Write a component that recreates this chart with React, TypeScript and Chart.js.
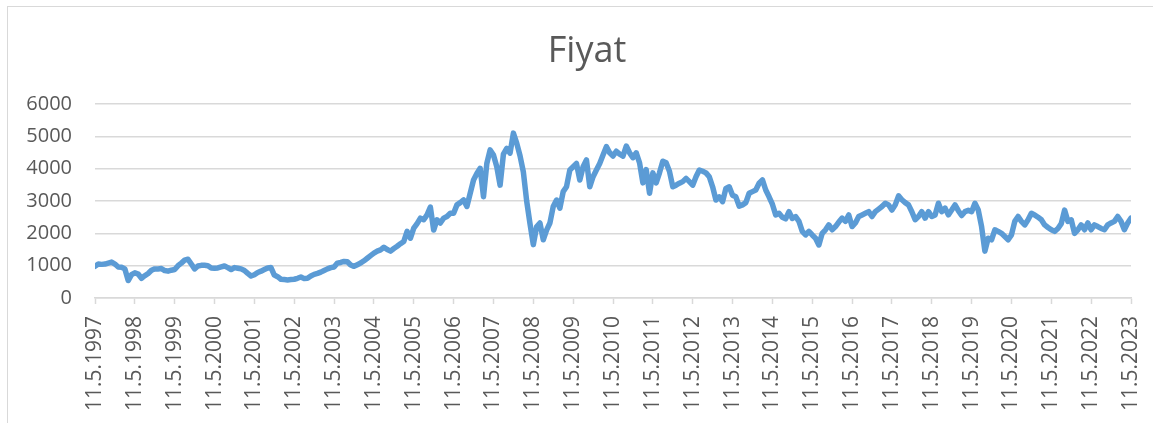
import React, { useEffect, useRef } from "react";
import { Chart, registerables } from "chart.js";

Chart.register(...registerables);

const chartTitle = "Fiyat";

const yearLabels = [
  "11.5.1997", "11.5.1998", "11.5.1999", "11.5.2000", "11.5.2001", "11.5.2002",
  "11.5.2003", "11.5.2004", "11.5.2005", "11.5.2006", "11.5.2007", "11.5.2008",
  "11.5.2009", "11.5.2010", "11.5.2011", "11.5.2012", "11.5.2013", "11.5.2014",
  "11.5.2015", "11.5.2016", "11.5.2017", "11.5.2018", "11.5.2019", "11.5.2020",
  "11.5.2021", "11.5.2022", "11.5.2023",
];

const yTicks = [0, 1000, 2000, 3000, 4000, 5000, 6000];

// Monthly readings, each row starting at May of the named year
const p1997 = [980, 1050, 1040, 1050, 1080, 1110, 1050, 960, 950, 900, 540, 720];
const p1998 = [780, 740, 610, 690, 760, 860, 900, 900, 910, 850, 830, 860];
const p1999 = [880, 1000, 1080, 1170, 1200, 1050, 900, 990, 1010, 1010, 1000, 930];
const p2000 = [920, 930, 960, 990, 940, 880, 940, 920, 900, 850, 760, 680];
const p2001 = [720, 790, 830, 880, 930, 940, 710, 660, 580, 570, 560, 570];
const p2002 = [580, 610, 650, 600, 610, 680, 730, 760, 800, 850, 900, 940];
const p2003 = [960, 1080, 1100, 1130, 1120, 1020, 980, 1030, 1080, 1150, 1230, 1310];
const p2004 = [1390, 1450, 1490, 1570, 1500, 1450, 1530, 1600, 1680, 1750, 2060, 1850];
const p2005 = [2160, 2300, 2470, 2420, 2570, 2810, 2100, 2420, 2320, 2470, 2520, 2620];
const p2006 = [2620, 2880, 2950, 3030, 2830, 3240, 3650, 3850, 4010, 3130, 4160, 4580];
const p2007 = [4420, 4060, 3490, 4450, 4630, 4480, 5100, 4790, 4400, 3900, 3000, 2300];
const p2008 = [1650, 2200, 2320, 1800, 2100, 2320, 2830, 3030, 2780, 3290, 3440, 3960];
const p2009 = [4060, 4160, 3650, 4060, 4270, 3440, 3750, 3960, 4160, 4420, 4680, 4490];
const p2010 = [4390, 4540, 4450, 4390, 4700, 4490, 4340, 4490, 4180, 3560, 3970, 3240];
const p2011 = [3870, 3560, 3870, 4230, 4180, 3920, 3440, 3490, 3550, 3600, 3700, 3600];
const p2012 = [3490, 3750, 3960, 3920, 3870, 3750, 3440, 3030, 3130, 2980, 3390, 3440];
const p2013 = [3180, 3130, 2840, 2880, 2950, 3240, 3290, 3340, 3550, 3650, 3340, 3130];
const p2014 = [2900, 2570, 2620, 2500, 2450, 2670, 2460, 2520, 2370, 2060, 1950, 2060];
const p2015 = [1950, 1850, 1640, 2000, 2110, 2260, 2110, 2210, 2350, 2470, 2370, 2570];
const p2016 = [2210, 2320, 2520, 2570, 2620, 2670, 2520, 2670, 2750, 2830, 2930, 2880];
const p2017 = [2720, 2880, 3160, 3040, 2950, 2880, 2670, 2420, 2520, 2670, 2470, 2670];
const p2018 = [2520, 2570, 2930, 2670, 2780, 2570, 2720, 2880, 2700, 2550, 2670, 2710];
const p2019 = [2670, 2930, 2720, 2210, 1450, 1850, 1800, 2110, 2060, 2000, 1900, 1800];
const p2020 = [1950, 2370, 2520, 2370, 2260, 2420, 2620, 2570, 2500, 2420, 2260, 2180];
const p2021 = [2110, 2060, 2150, 2300, 2720, 2370, 2420, 2000, 2110, 2260, 2110, 2320];
const p2022 = [2110, 2260, 2210, 2150, 2110, 2260, 2320, 2370, 2520, 2370, 2110, 2320];
const p2023 = [2470];

const prices = [
  ...p1997, ...p1998, ...p1999, ...p2000, ...p2001, ...p2002, ...p2003,
  ...p2004, ...p2005, ...p2006, ...p2007, ...p2008, ...p2009, ...p2010,
  ...p2011, ...p2012, ...p2013, ...p2014, ...p2015, ...p2016, ...p2017,
  ...p2018, ...p2019, ...p2020, ...p2021, ...p2022, ...p2023,
];

const MONTHS_PER_LABEL = 12;
const FONT = "'Open Sans', 'Liberation Sans', sans-serif";
const TEXT = "#595959";
const GRID = "#d9d9d9";
const LINE = "#5b9bd5";
const TITLE_X = 587;
const TITLE_Y = 52;

const titlePlugin = {
  id: "excelTitle",
  afterDraw(chart: any) {
    const ctx = chart.ctx;
    ctx.save();
    ctx.fillStyle = TEXT;
    ctx.font = `normal 36px ${FONT}`;
    ctx.textAlign = "center";
    ctx.textBaseline = "middle";
    ctx.fillText(chartTitle, TITLE_X, TITLE_Y);
    ctx.restore();
  },
};

export default function App() {
  const ref = useRef<HTMLCanvasElement | null>(null);

  useEffect(() => {
    if (!ref.current) return;
    const chart = new Chart(ref.current, {
      type: "line",
      data: {
        datasets: [
          {
            label: chartTitle,
            data: prices.map((y, i) => ({ x: i, y })),
            borderColor: LINE,
            backgroundColor: LINE,
            borderWidth: 5.5,
            pointRadius: 0,
            tension: 0,
            borderJoinStyle: "round",
            borderCapStyle: "round",
          },
        ],
      },
      plugins: [titlePlugin],
      options: {
        responsive: false,
        animation: false,
        devicePixelRatio: 1,
        layout: { padding: { left: 0, right: 22, top: 104, bottom: 0 } },
        plugins: {
          legend: { display: false },
          tooltip: { enabled: false },
          title: { display: false },
        },
        scales: {
          x: {
            type: "linear",
            min: 0,
            max: prices.length - 1,
            afterFit: (s: any) => {
              s.height = 125;
              s.paddingLeft = 0;
              s.paddingRight = 0;
            },
            afterBuildTicks: (s: any) => {
              s.ticks = yearLabels.map((_, i) => ({ value: i * MONTHS_PER_LABEL }));
            },
            ticks: {
              autoSkip: false,
              minRotation: 90,
              maxRotation: 90,
              padding: 12,
              color: TEXT,
              font: { family: FONT, size: 21 },
              callback: (v: any) => yearLabels[Math.round(Number(v) / MONTHS_PER_LABEL)] ?? "",
            },
            grid: {
              drawOnChartArea: false,
              drawTicks: true,
              tickLength: 6,
              tickColor: GRID,
              tickWidth: 1.5,
              color: GRID,
            },
            border: { display: true, color: GRID, width: 1.5 },
          },
          y: {
            min: yTicks[0],
            max: yTicks[yTicks.length - 1],
            afterFit: (s: any) => {
              s.width = 95;
              s.paddingTop = 0;
              s.paddingBottom = 0;
            },
            afterBuildTicks: (s: any) => {
              s.ticks = yTicks.map((v) => ({ value: v }));
            },
            ticks: {
              padding: 23,
              color: TEXT,
              font: { family: FONT, size: 20 },
              callback: (v: any) => String(v),
            },
            grid: { color: GRID, lineWidth: 1.5, drawTicks: false },
            border: { display: false },
          },
        },
      },
    });
    return () => chart.destroy();
  }, []);

  return (
    <div
      style={{
        position: "absolute",
        left: 0,
        top: 0,
        width: 1153,
        height: 423,
        overflow: "hidden",
        background: "#ffffff",
      }}
    >
      <div
        style={{
          position: "absolute",
          left: 7,
          top: 6,
          width: 1146,
          height: 417,
          borderLeft: `1px solid ${GRID}`,
          borderTop: `1px solid ${GRID}`,
          boxSizing: "border-box",
        }}
      />
      <canvas
        ref={ref}
        width={1153}
        height={423}
        style={{ position: "absolute", left: 0, top: 0, width: 1153, height: 423 }}
      />
    </div>
  );
}
